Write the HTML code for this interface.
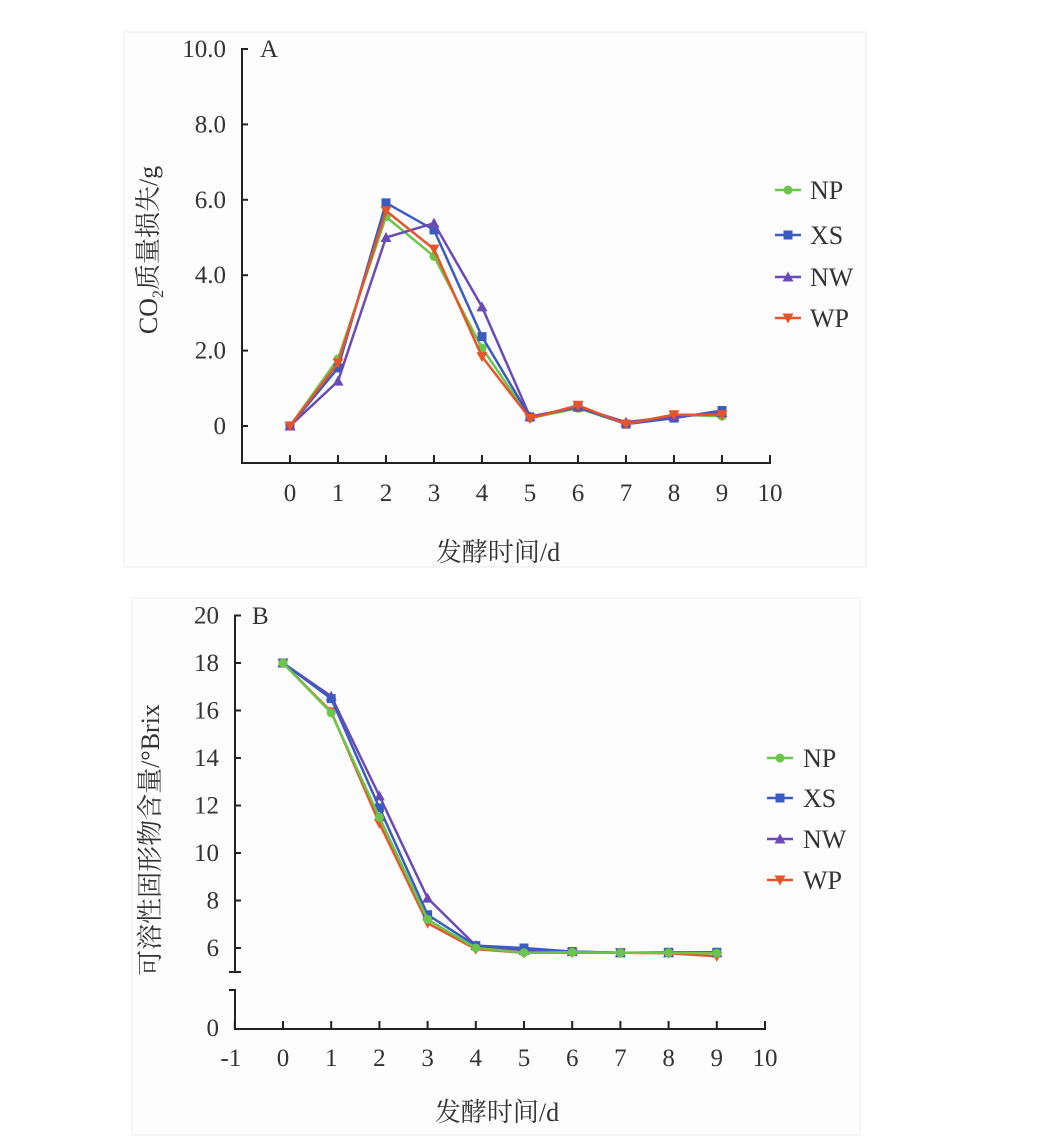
<!DOCTYPE html>
<html><head><meta charset="utf-8"><style>
body{margin:0;background:#fff;}
svg{display:block;font-family:"Liberation Serif","Noto Serif CJK SC",serif;}
</style></head><body>
<svg id="fig" width="1039" height="1143" viewBox="0 0 1039 1143">
<rect x="124" y="32" width="742" height="535" fill="#fdfdfd" stroke="#ececec"/>
<rect x="132" y="598" width="728" height="537" fill="#fdfdfd" stroke="#ececec"/>
<g id="chartA"></g>
<g id="chartB"></g>
</svg>
<script>
const days = [0,1,2,3,4,5,6,7,8,9];
const seriesNames = ["NP","XS","NW","WP"];
const colors = ["#6cc54a","#3a5cc0","#6a4bb5","#e8542a"];
const markers = ["circle","square","triangle","down"];
const aNP = [0,1.78,5.55,4.5,2.07,0.21,0.47,0.06,0.3,0.26];
const aXS = [0,1.54,5.92,5.2,2.37,0.24,0.5,0.05,0.21,0.41];
const aNW = [0,1.19,5.0,5.38,3.16,0.25,0.5,0.1,0.25,0.35];
const aWP = [0,1.67,5.71,4.69,1.84,0.2,0.55,0.05,0.3,0.3];
const bNP = [18,15.9,11.5,7.2,6.0,5.8,5.82,5.8,5.8,5.78];
const bXS = [18,16.5,11.9,7.4,6.1,6.0,5.85,5.8,5.82,5.82];
const bNW = [18,16.6,12.4,8.1,6.1,5.9,5.85,5.8,5.8,5.8];
const bWP = [18,15.95,11.25,7.05,5.95,5.8,5.8,5.8,5.78,5.65];
const aYTicks = [0,2,4,6,8,10];
const aYLabels = ["0","2.0","4.0","6.0","8.0","10.0"];
const aXTicks = [0,1,2,3,4,5,6,7,8,9,10];
const bYTicks = [6,8,10,12,14,16,18,20];
const bXTicks = [-1,0,1,2,3,4,5,6,7,8,9,10];

const NS="http://www.w3.org/2000/svg";
function mk(parent,tag,attrs,text){const e=document.createElementNS(NS,tag);for(const k in attrs)e.setAttribute(k,attrs[k]);if(text!==undefined)e.textContent=text;parent.appendChild(e);return e;}
function marker(g,type,x,y,c){
  let e;
  if(type==="circle") e=mk(g,"circle",{cx:x,cy:y,r:4.5,fill:c});
  else if(type==="square") e=mk(g,"rect",{x:x-4.5,y:y-4.5,width:9,height:9,fill:c});
  else if(type==="triangle") e=mk(g,"polygon",{points:`${x},${y-5.5} ${x+5.5},${y+4.5} ${x-5.5},${y+4.5}`,fill:c});
  else e=mk(g,"polygon",{points:`${x},${y+5.5} ${x+5.5},${y-4.5} ${x-5.5},${y-4.5}`,fill:c});
  return e;
}

// Chart A
(function(){
  const g=document.getElementById("chartA");
  const x=v=>242+48*(v+1);
  const y=v=>426-37.7*v;
  const ax=mk(g,"path",{d:`M248,${y(10)} H242 V463 H770 V455`,fill:"none",stroke:"#222","stroke-width":2});
  
  
  aYTicks.forEach((t,i)=>{
    mk(g,"line",{x1:242,x2:248,y1:y(t),y2:y(t),stroke:"#222","stroke-width":2});
    const l=mk(g,"text",{x:226,y:y(t)+8,"text-anchor":"end","font-size":25,fill:"#333"},aYLabels[i]);
    
    
  });
  aXTicks.forEach(t=>{
    mk(g,"line",{x1:x(t),x2:x(t),y1:463,y2:455,stroke:"#222","stroke-width":2});
    const l=mk(g,"text",{x:x(t),y:501,"text-anchor":"middle","font-size":25,fill:"#333"},String(t));
    
    
  });
  const pl=mk(g,"text",{x:260,y:57,"font-size":25,fill:"#333"},"A");
  
  
  const xt=mk(g,"text",{x:498,y:561,"text-anchor":"middle","font-size":26,fill:"#333"},"发酵时间/d");
  
  
  const yt=mk(g,"text",{transform:"translate(157,250) rotate(-90)","text-anchor":"middle","font-size":26,fill:"#333"});
  
  
  mk(yt,"tspan",{},"CO");
  mk(yt,"tspan",{"font-size":16,dy:6},"2");
  mk(yt,"tspan",{dy:-6},"质量损失/g");
  const data=[aNP,aXS,aNW,aWP];
  data.forEach((d,s)=>{
    const sg=mk(g,"g",{});
    
    
    mk(sg,"polyline",{points:d.map((v,i)=>x(days[i])+","+y(v)).join(" "),fill:"none",stroke:colors[s],"stroke-width":2.5});
    d.forEach((v,i)=>marker(sg,markers[s],x(days[i]),y(v),colors[s]));
  });
  const ly=[190,235,277,318];
  seriesNames.forEach((n,s)=>{
    const lg=mk(g,"g",{});
    
    
    mk(lg,"line",{x1:775,x2:801,y1:ly[s],y2:ly[s],stroke:colors[s],"stroke-width":2.5});
    marker(lg,markers[s],788,ly[s],colors[s]);
    mk(lg,"text",{x:810,y:ly[s]+9,"font-size":26,fill:"#333"},n);
  });
})();

// Chart B
(function(){
  const g=document.getElementById("chartB");
  const x=v=>283+48.2*v;
  const y=v=>663+23.75*(18-v);
  const ax=mk(g,"path",{d:`M241,${y(20)} H235 V972 M241,972 H229`,fill:"none",stroke:"#222","stroke-width":2});
  
  
  const ax2=mk(g,"path",{d:`M229,990 H235 V1029 H765 V1021`,fill:"none",stroke:"#222","stroke-width":2});
  
  
  bYTicks.forEach(t=>{
    mk(g,"line",{x1:235,x2:241,y1:y(t),y2:y(t),stroke:"#222","stroke-width":2});
    const l=mk(g,"text",{x:219,y:y(t)+8,"text-anchor":"end","font-size":25,fill:"#333"},String(t));
    
    
  });
  const z=mk(g,"text",{x:219,y:1036,"text-anchor":"end","font-size":25,fill:"#333"},"0");
  
  
  bXTicks.forEach(t=>{
    mk(g,"line",{x1:x(t),x2:x(t),y1:1029,y2:1021,stroke:"#222","stroke-width":2});
    const l=mk(g,"text",{x:x(t)-(t<0?4:0),y:1066,"text-anchor":"middle","font-size":25,fill:"#333"},String(t));
    
    
  });
  const pl=mk(g,"text",{x:252,y:624,"font-size":25,fill:"#333"},"B");
  
  
  const xt=mk(g,"text",{x:497,y:1121,"text-anchor":"middle","font-size":26,fill:"#333"},"发酵时间/d");
  
  
  const yt=mk(g,"text",{transform:"translate(159,840) rotate(-90)","text-anchor":"middle","font-size":26,fill:"#333"},"可溶性固形物含量/°Brix");
  
  
  const data=[bNP,bXS,bNW,bWP];
  [3,2,1,0].forEach(s=>{
    const d=data[s];
    const sg=mk(g,"g",{});
    
    
    mk(sg,"polyline",{points:d.map((v,i)=>x(days[i])+","+y(v)).join(" "),fill:"none",stroke:colors[s],"stroke-width":2.5});
    d.forEach((v,i)=>marker(sg,markers[s],x(days[i]),y(v),colors[s]));
  });
  const ly=[758,798,839,880];
  seriesNames.forEach((n,s)=>{
    const lg=mk(g,"g",{});
    
    
    mk(lg,"line",{x1:767,x2:793,y1:ly[s],y2:ly[s],stroke:colors[s],"stroke-width":2.5});
    marker(lg,markers[s],780,ly[s],colors[s]);
    mk(lg,"text",{x:803,y:ly[s]+9,"font-size":26,fill:"#333"},n);
  });
})();
</script>
</body></html>
